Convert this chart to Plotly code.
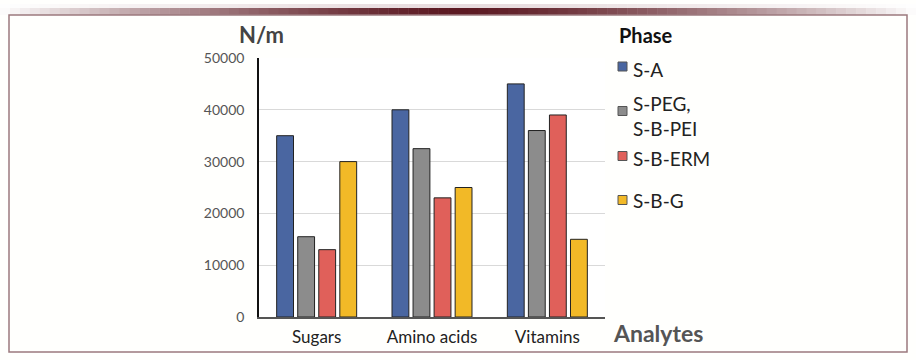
import plotly.graph_objects as go

categories = ["Sugars", "Amino acids", "Vitamins"]
series_names = ["S-A", "S-PEG,<br>S-B-PEI", "S-B-ERM", "S-B-G"]
s_a = [35000, 40000, 45000]
s_peg = [15500, 32500, 36000]
s_erm = [13000, 23000, 39000]
s_g = [30000, 25000, 15000]
colors = ["#4a66a1", "#8c8c8c", "#e0605a", "#f2b927"]
y_ticks = [0, 10000, 20000, 30000, 40000, 50000]
y_tick_labels = ["0", "10000", "20000", "30000", "40000", "50000"]

W, H = 916, 360
L, R, T, B = 259, 605, 58, 317

def px(x):
    return (x - L) / (R - L)

def py(y):
    return (B - y) / (B - T)

fig = go.Figure()
for name, vals, col in zip(series_names, [s_a, s_peg, s_erm, s_g], colors):
    fig.add_trace(go.Bar(x=categories, y=vals, name=name.replace("<br>", " "), showlegend=False,
                         marker=dict(color=col, line=dict(color="#222222", width=1))))

def mix(c, a):
    r, g, b = c
    return "rgb(%d,%d,%d)" % (255 - (255 - r) * a, 255 - (255 - g) * a, 255 - (255 - b) * a)

shapes = []
# top gradient band (decoration)
n = 92
for i in range(n):
    x0 = i * W / n
    x1 = (i + 1) * W / n
    xc = (x0 + x1) / 2
    d = abs(xc - 458) / 458
    w = max(0.0, 1 - d ** 1.4)
    shapes.append(dict(type="rect", xref="paper", yref="paper",
                       x0=px(x0), x1=px(x1 + 0.5), y0=py(15), y1=py(8),
                       fillcolor=mix((92, 26, 34), w), line=dict(width=0), layer="below"))
    shapes.append(dict(type="rect", xref="paper", yref="paper",
                       x0=px(x0), x1=px(x1 + 0.5), y0=py(8), y1=py(4),
                       fillcolor=mix((180, 140, 145), w * 0.3), line=dict(width=0), layer="below"))
# frame
shapes.append(dict(type="rect", xref="paper", yref="paper",
                   x0=px(9), x1=px(907), y0=py(352), y1=py(15),
                   fillcolor="rgba(0,0,0,0)", line=dict(color="#9c7a7e", width=1.5)))

annotations = [
    dict(text="<b>N/m</b>", xref="paper", yref="paper", x=px(261), y=py(35),
         xanchor="center", yanchor="middle", showarrow=False,
         font=dict(size=22, color="#444444")),
    dict(text="<b>Analytes</b>", xref="paper", yref="paper", x=px(611), y=py(333),
         xanchor="left", yanchor="middle", showarrow=False,
         font=dict(size=23, color="#555555")),
    dict(text="<b>Phase</b>", xref="paper", yref="paper", x=px(617), y=py(35),
         xanchor="left", yanchor="middle", showarrow=False,
         font=dict(size=20, color="#111111")),
]

# manual legend
square_y = [66.5, 111, 156, 200]
text_y = [69, 115.5, 158.5, 200.5]
for name, col, ys, yt in zip(series_names, colors, square_y, text_y):
    shapes.append(dict(type="rect", xref="paper", yref="paper",
                       x0=px(618), x1=px(627), y0=py(ys + 4.5), y1=py(ys - 4.5),
                       fillcolor=col, line=dict(color="#555555", width=1)))
    annotations.append(dict(text=name, xref="paper", yref="paper", x=px(632),
                            y=py(yt), borderpad=0,
                            xanchor="left", yanchor="middle", align="left", showarrow=False,
                            font=dict(size=19, color="#222222")))

fig.update_layout(
    width=W, height=H,
    margin=dict(l=L, r=W - R, t=T, b=H - B),
    paper_bgcolor="#fffffd", plot_bgcolor="#ffffff",
    bargap=0.27, bargroupgap=0.2,
    font=dict(family="Lato, sans-serif", color="#444444"),
    xaxis=dict(showline=True, linecolor="#555555", linewidth=1.5, ticks="",
               tickfont=dict(size=17, color="#222222"), showgrid=False,
               ticklabelstandoff=4),
    yaxis=dict(range=[0, 50000], tickvals=y_ticks, ticktext=y_tick_labels,
               showline=True, linecolor="#111111",
               linewidth=1.5, gridcolor="#d9d9d9", gridwidth=1, zeroline=False,
               tickfont=dict(size=14, color="#555555"), ticks="", ticklen=0,
               ticklabelstandoff=10),
    shapes=shapes,
    annotations=annotations,
)

fig.write_html("out.html", config={"displayModeBar": False},
               post_script="document.body.style.margin='0';document.body.style.padding='0';")
